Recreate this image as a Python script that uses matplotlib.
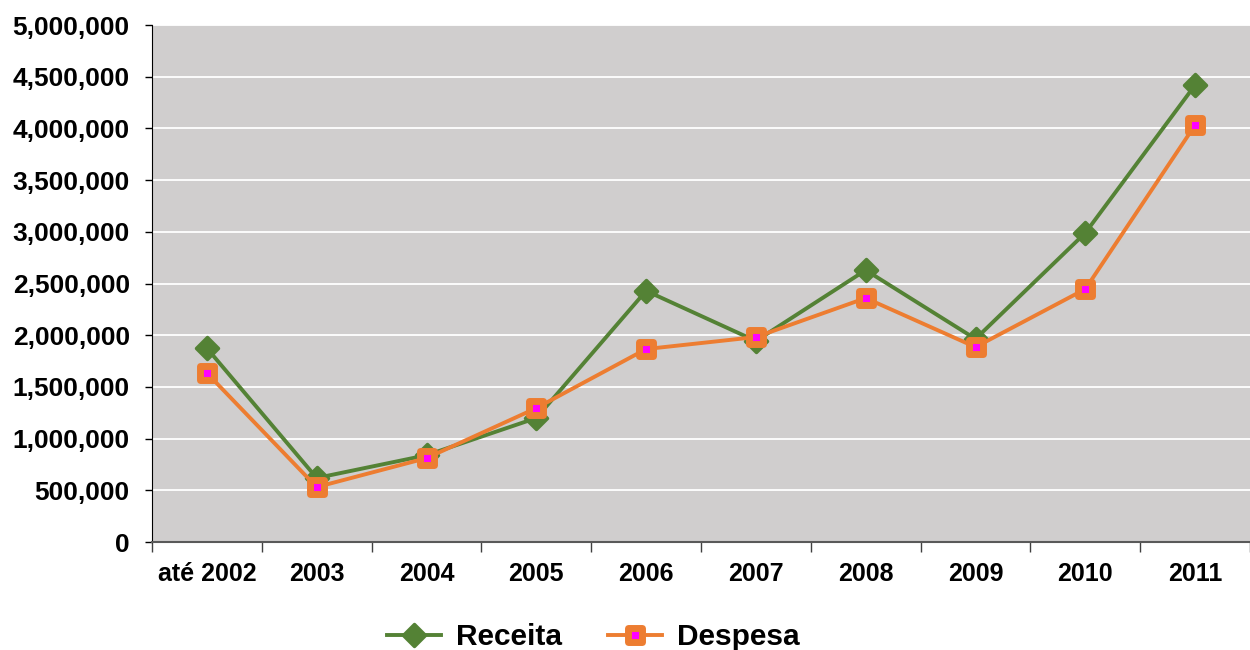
import matplotlib.pyplot as plt
from matplotlib.markers import MarkerStyle
from matplotlib.ticker import FuncFormatter
import numpy as np

anos = ["até 2002", "2003", "2004", "2005", "2006", "2007", "2008", "2009", "2010", "2011"]
receita = [1875000, 620000, 840000, 1200000, 2430000, 1945000, 2630000, 1965000, 2990000, 4420000]
despesa = [1635000, 532000, 812000, 1296000, 1867000, 1983000, 2360000, 1886000, 2447000, 4033000]

plt.rcParams['font.family'] = ['Liberation Sans', 'DejaVu Sans']
plt.rcParams['font.weight'] = 'bold'

fig = plt.figure(figsize=(12.5, 6.5), dpi=100)
ax = fig.add_axes([0.1216, 0.166, 0.8784, 0.7954])
ax.set_facecolor('#d0cece')

x = np.arange(len(anos))
diamante = MarkerStyle('D', joinstyle='round')
quadrado = MarkerStyle('s', joinstyle='round')

ax.plot(x, receita, color='#548235', lw=2.8, marker=diamante, markersize=11.5,
        markerfacecolor='#548235', markeredgecolor='#548235', markeredgewidth=2.5,
        label='Receita', zorder=3)
ax.plot(x, despesa, color='#ed7d31', lw=2.8, marker=quadrado, markersize=9.5,
        markerfacecolor='#ff00ff', markeredgecolor='#ed7d31', markeredgewidth=5,
        label='Despesa', zorder=4)

ax.set_xlim(-0.5, len(anos) - 0.5)
ax.set_ylim(0, 5000000)
ax.set_yticks(np.arange(0, 5000001, 500000))
ax.yaxis.set_major_formatter(FuncFormatter(lambda v, p: f"{int(v):,}"))
ax.grid(axis='y', color='white', lw=1.3)
ax.set_axisbelow(True)

ax.set_xticks(x)
ax.set_xticklabels(anos)
ax.set_xticks(np.arange(-0.5, len(anos)), minor=True)
ax.tick_params(axis='x', which='major', length=0, pad=14, labelsize=18)
ax.tick_params(axis='x', which='minor', length=7, width=1, color='#404040')
ax.tick_params(axis='y', length=5, width=1, pad=11, labelsize=19)

for s in ['top', 'right']:
    ax.spines[s].set_visible(False)
ax.spines['left'].set_color('black')
ax.spines['bottom'].set_color('#595959')
ax.spines['bottom'].set_linewidth(1.5)

fig.legend(loc='center', bbox_to_anchor=(593 / 1250, 0.02), ncol=2, frameon=False,
           fontsize=21.5, handlelength=1.8, handletextpad=0.5, columnspacing=1.55)

fig.savefig('out.png', dpi=100)
